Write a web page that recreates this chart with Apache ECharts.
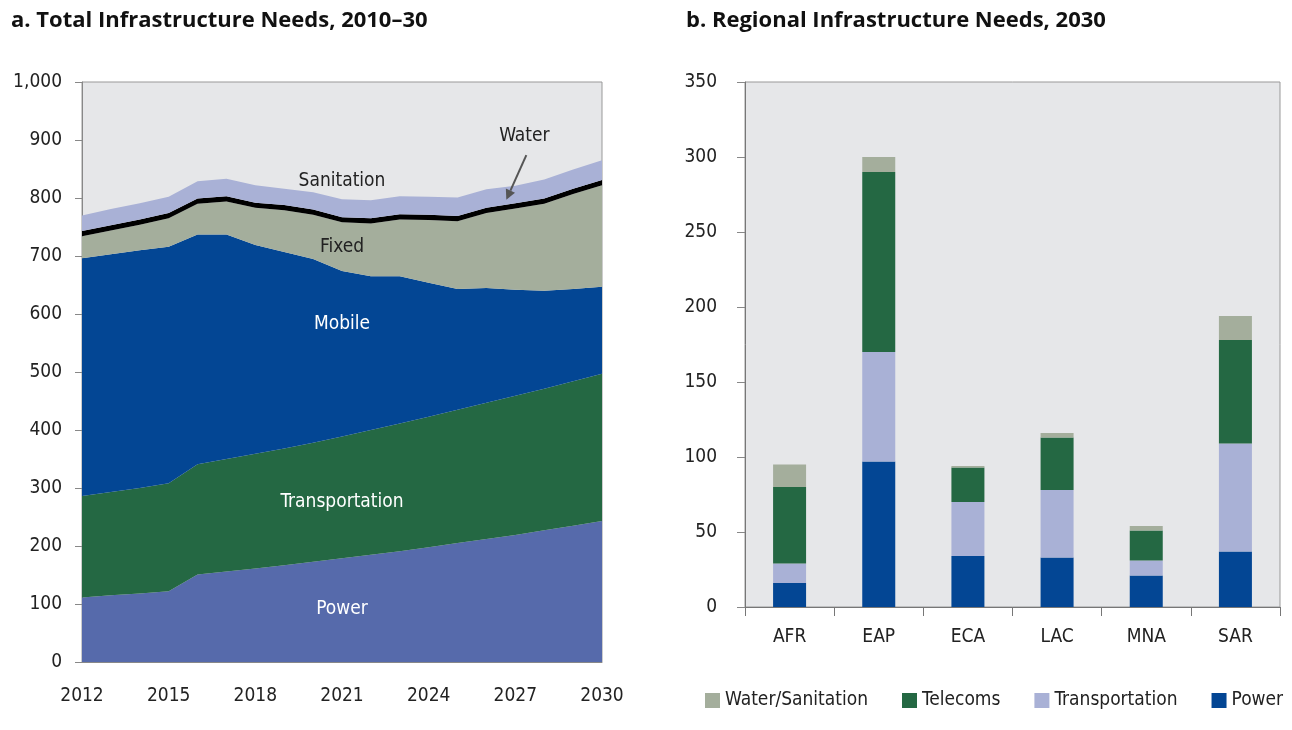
<!DOCTYPE html>
<html>
<head>
<meta charset="utf-8">
<script src="https://cdn.jsdelivr.net/npm/echarts@6/dist/echarts.min.js"></script>
<style>
  html, body { margin: 0; padding: 0; background: #fff; }
  #main { width: 1292px; height: 730px; }
</style>
</head>
<body>
<div id="main"></div>
<script>
var FONT = '"Liberation Sans Narrow", "DejaVu Sans Condensed", sans-serif';

// panel a: yearly needs by sector (stacked)
var years = ['2012','2013','2014','2015','2016','2017','2018','2019','2020','2021',
             '2022','2023','2024','2025','2026','2027','2028','2029','2030'];
var powerA      = [111,115,118,122,151,156,161,167,173,179,185,191,198,205,212,219,227,235,243];
var transportA  = [175,178,182,186,190,194,198,201,205,210,215,220,225,230,235,240,244,249,254];
var mobileA     = [410,410,410,408,396,387,360,339,317,285,265,254,231,208,198,183,169,159,150];
var fixedA      = [38,41,44,49,53,57,64,72,76,84,91,98,108,117,129,140,150,164,175];
var waterA      = [9,9,9,9,9,9,9,9,9,9,9,9,9,9,9,9,9,9,9];
var sanitationA = [27,28,28,28,30,30,30,28,30,31,31,31,31,32,32,30,33,33,34];

// panel b: regional needs 2030
var regions = ['AFR','EAP','ECA','LAC','MNA','SAR'];
var powerB     = [16,97,34,33,21,37];
var transportB = [13,73,36,45,10,72];
var telecomsB  = [51,120,23,35,20,69];
var waterSanB  = [15,10,1,3,3,16];

var C_POWER_A = '#566aab', C_GREEN = '#246843', C_BLUE = '#034694',
    C_GREY = '#a4ae9c', C_LAV = '#a9b1d6';

var chart = echarts.init(document.getElementById('main'));

function area(name, data, color) {
  return {
    name: name, type: 'line', stack: 'a', data: data,
    xAxisIndex: 0, yAxisIndex: 0,
    symbol: 'none', silent: true,
    lineStyle: { width: 0 },
    areaStyle: { color: color, opacity: 1 },
    itemStyle: { color: color }
  };
}
function bar(name, data, color) {
  return {
    name: name, type: 'bar', stack: 'b', data: data,
    xAxisIndex: 1, yAxisIndex: 1, barWidth: 33,
    itemStyle: { color: color }
  };
}

var axisTxt = { color: '#222', fontFamily: FONT, fontSize: 19 };
var titleTxt = { fontFamily: '"Open Sans", sans-serif', fontWeight: 'bold', fontSize: 22, color: '#111' };

var option = {
  animation: false,
  textStyle: { fontFamily: FONT },
  title: [
    { text: 'a. Total Infrastructure Needs, 2010–30', left: 6, top: 5, textStyle: titleTxt },
    { text: 'b. Regional Infrastructure Needs, 2030', left: 681, top: 5, textStyle: titleTxt }
  ],
  legend: {
    data: ['Water/Sanitation', 'Telecoms', 'Transportation', 'Power'],
    left: 700, top: 686, itemWidth: 15, itemHeight: 15, itemGap: 34,
    icon: 'rect',
    textStyle: { fontFamily: FONT, fontSize: 19, color: '#222' }
  },
  grid: [
    { left: 82, right: 690, top: 82, bottom: 68, show: true,
      backgroundColor: '#e6e7e9', borderColor: '#999', borderWidth: 1 },
    { left: 745, right: 12, top: 82, bottom: 123, show: true,
      backgroundColor: '#e6e7e9', borderColor: '#999', borderWidth: 1 }
  ],
  xAxis: [
    { type: 'category', gridIndex: 0, data: years, boundaryGap: false,
      axisLine: { lineStyle: { color: '#888' } },
      axisTick: { show: false },
      axisLabel: Object.assign({ interval: 2, margin: 25 }, axisTxt) },
    { type: 'category', gridIndex: 1, data: regions,
      axisLine: { lineStyle: { color: '#777' } },
      axisTick: { show: true, length: 9, lineStyle: { color: '#777' } },
      axisLabel: Object.assign({ margin: 21 }, axisTxt) }
  ],
  yAxis: [
    { type: 'value', gridIndex: 0, min: 0, max: 1000, interval: 100,
      axisLine: { show: true, lineStyle: { color: '#888' } },
      axisTick: { show: true, length: 7, lineStyle: { color: '#888' } },
      splitLine: { show: false },
      axisLabel: Object.assign({ margin: 20, formatter: function (v) { return v.toLocaleString('en-US'); } }, axisTxt) },
    { type: 'value', gridIndex: 1, min: 0, max: 350, interval: 50,
      axisLine: { show: true, lineStyle: { color: '#777' } },
      axisTick: { show: true, length: 8, lineStyle: { color: '#888' } },
      splitLine: { show: false },
      axisLabel: Object.assign({ margin: 28 }, axisTxt) }
  ],
  series: [
    area('a-Power', powerA, C_POWER_A),
    area('a-Transportation', transportA, C_GREEN),
    area('a-Mobile', mobileA, C_BLUE),
    area('a-Fixed', fixedA, C_GREY),
    area('a-Water', waterA, '#000'),
    area('a-Sanitation', sanitationA, C_LAV),
    bar('Power', powerB, C_BLUE),
    bar('Transportation', transportB, C_LAV),
    bar('Telecoms', telecomsB, C_GREEN),
    bar('Water/Sanitation', waterSanB, C_GREY)
  ]
};
chart.setOption(option);

// in-chart labels for panel a, placed at data coordinates
var labelsA = [
  { text: 'Sanitation', year: '2021', v: 829, color: '#222' },
  { text: 'Fixed', year: '2021', v: 715, color: '#222' },
  { text: 'Mobile', year: '2021', v: 583, color: '#fff' },
  { text: 'Transportation', year: '2021', v: 276, color: '#fff' },
  { text: 'Power', year: '2021', v: 91, color: '#fff' },
  { text: 'Water', year: '2027', v: 907, color: '#222', dx: 9 }
];
var gfx = labelsA.map(function (l) {
  var p = chart.convertToPixel({ gridIndex: 0 }, [l.year, l.v]);
  return {
    type: 'text', x: p[0] + (l.dx || 0), y: p[1],
    style: { text: l.text, fill: l.color, font: '19px ' + FONT, align: 'center', verticalAlign: 'middle' },
    z: 100
  };
});
// arrow from "Water" to the black line
var a0 = chart.convertToPixel({ gridIndex: 0 }, ['2027', 874]);
var a1 = chart.convertToPixel({ gridIndex: 0 }, ['2027', 797]);
a0[0] += 11; a1[0] -= 9;
var ang = Math.atan2(a1[1] - a0[1], a1[0] - a0[0]);
var hl = 10, hw = 5;
var bx = a1[0] - hl * Math.cos(ang), by = a1[1] - hl * Math.sin(ang);
gfx.push({ type: 'line', shape: { x1: a0[0], y1: a0[1], x2: bx, y2: by },
  style: { stroke: '#555', lineWidth: 2 }, z: 100 });
gfx.push({ type: 'polygon', shape: { points: [
  [a1[0], a1[1]],
  [bx + hw * Math.sin(ang), by - hw * Math.cos(ang)],
  [bx - hw * Math.sin(ang), by + hw * Math.cos(ang)]
] }, style: { fill: '#555' }, z: 100 });
chart.setOption({ graphic: gfx });
</script>
</body>
</html>
